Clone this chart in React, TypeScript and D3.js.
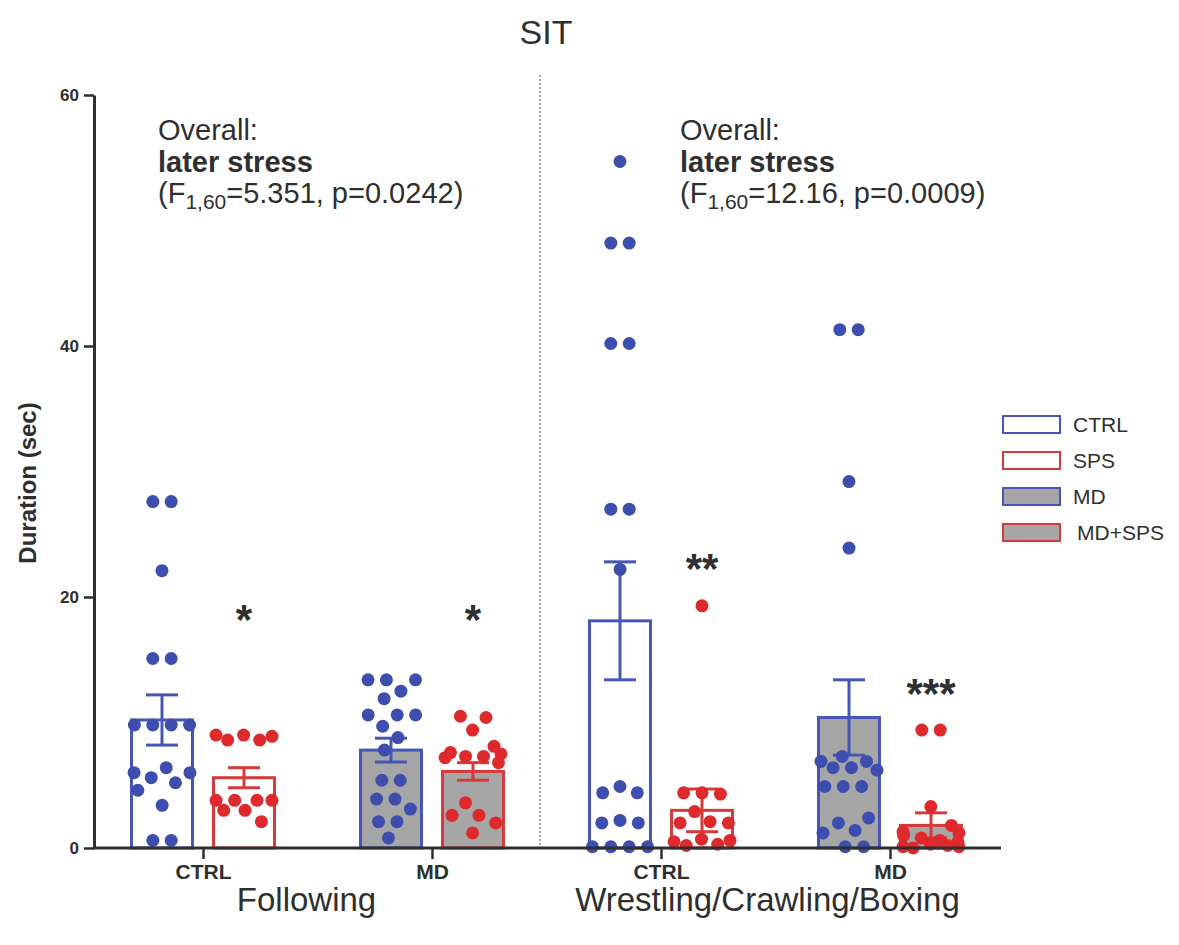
import { useEffect, useRef } from 'react';
import * as d3 from 'd3';

const behaviours = ['Following', 'Wrestling/Crawling/Boxing'];
const rearing = ['CTRL', 'MD'];
const stress = ['CTRL', 'SPS'];
const legendLabels = ['CTRL', 'SPS', 'MD', 'MD+SPS'];
const yTicks = [0, 20, 40, 60];

// individual animals, one array per bar (sec)
const followCtrlCtrl = [27.6, 27.6, 22.1, 15.1, 15.1, 9.8, 9.8, 9.8, 9.8, 6.4, 6.0, 6.0, 5.6, 5.2, 4.6, 3.4, 0.6, 0.6];
const followCtrlSps = [9.0, 8.6, 8.6, 8.9, 9.0, 3.8, 3.8, 3.8, 3.8, 3.0, 3.0, 2.1];
const followMdCtrl = [13.4, 13.4, 13.4, 12.5, 11.9, 10.6, 10.6, 10.6, 9.7, 8.8, 7.8, 5.4, 5.4, 3.9, 3.9, 3.1, 2.1, 2.1, 0.8];
const followMdSps = [10.5, 10.4, 9.4, 8.1, 7.6, 7.3, 7.3, 7.5, 7.2, 6.8, 3.6, 2.6, 2.6, 2.0, 1.2];
const wrestCtrlCtrl = [54.7, 48.2, 48.2, 40.2, 40.2, 27.0, 27.0, 22.2, 4.9, 4.4, 4.4, 2.2, 2.0, 2.0, 0.1, 0.1, 0.1, 0.1];
const wrestCtrlSps = [19.3, 4.4, 4.4, 4.3, 2.9, 2.1, 2.0, 2.0, 0.7, 0.6, 0.5, 0.3, 0.2];
const wrestMdCtrl = [41.3, 41.3, 29.2, 23.9, 7.3, 6.9, 6.9, 6.4, 6.4, 6.2, 4.9, 4.9, 4.9, 2.4, 2.0, 1.4, 1.2, 0.1, 0.1];
const wrestMdSps = [9.4, 9.4, 3.3, 1.8, 1.3, 1.2, 1.0, 0.8, 0.6, 0.5, 0.3, 0.2, 0.1, 0.1, 0.0];

// mean / SEM, order: CTRL-CTRL, CTRL-SPS, MD-CTRL, MD-SPS
const followMeans = [10.2, 5.6, 7.8, 6.1];
const followSem = [2.0, 0.8, 0.95, 0.7];
const wrestMeans = [18.1, 3.0, 10.4, 1.8];
const wrestSem = [4.7, 1.7, 3.0, 1.0];

// significance vs. same-rearing CTRL, drawn above the SPS bar
const sigStars = ['*', '*', '**', '***'];
const sigLevels = [19, 19, 23, 13.1];

const fStats = ['5.351', '12.16'];
const pStats = ['0.0242', '0.0009'];

const BLUE = '#3d4eae';
const BLUE_LINE = '#4656b6';
const RED = '#de2a2c';
const RED_LINE = '#d63a3a';
const GRAY = '#a6a6a6';
const INK = '#2f2f2f';
const FONT = '"Liberation Sans", Arial, Helvetica, sans-serif';

const App = () => {
    const ref = useRef<SVGSVGElement>(null);

    useEffect(() => {
        if (!ref.current) return;
        const svg = d3.select(ref.current);
        svg.selectAll('*').remove();

        const y = d3.scaleLinear().domain([0, 60]).range([848, 95]);
        const cats = behaviours.flatMap(b => rearing.map(r => b + '|' + r));
        const x = d3.scalePoint().domain(cats).range([203, 890]);
        const inner = d3.scaleBand().domain(stress).range([-82, 82]).paddingInner(0.22).paddingOuter(0.11);
        const bw = inner.bandwidth();

        const raw = [followCtrlCtrl, followCtrlSps, followMdCtrl, followMdSps,
            wrestCtrlCtrl, wrestCtrlSps, wrestMdCtrl, wrestMdSps];
        const means = [...followMeans, ...wrestMeans];
        const sems = [...followSem, ...wrestSem];

        const bars = cats.flatMap((c, ci) => stress.map((s, si) => {
            const k = ci * 2 + si;
            const cx = (x(c) as number) + (inner(s) as number) + bw / 2;
            const md = c.endsWith('MD');
            return { c, s, k, cx, md, vals: raw[k], mean: means[k], sem: sems[k], color: si ? RED : BLUE, line: si ? RED_LINE : BLUE_LINE };
        }));

        // title
        svg.append('text').attr('x', 546).attr('y', 44).attr('text-anchor', 'middle')
            .attr('font-family', FONT).attr('font-size', 34).attr('fill', INK).text('SIT');

        // divider between behaviours
        svg.append('line').attr('x1', 540).attr('x2', 540).attr('y1', 75).attr('y2', 848)
            .attr('stroke', '#555').attr('stroke-width', 1).attr('stroke-dasharray', '2,2');

        // bars
        const g = svg.append('g');
        g.selectAll('rect.bar').data(bars).join('rect')
            .attr('class', 'bar')
            .attr('x', d => d.cx - bw / 2 + 1.5)
            .attr('width', bw - 3)
            .attr('y', d => y(d.mean))
            .attr('height', d => y(0) - y(d.mean))
            .attr('fill', d => d.md ? GRAY : 'white')
            .attr('stroke', d => d.line)
            .attr('stroke-width', 3);

        // error bars
        bars.forEach(d => {
            const eg = g.append('g').attr('stroke', d.line).attr('stroke-width', 3);
            eg.append('line').attr('x1', d.cx).attr('x2', d.cx).attr('y1', y(d.mean - d.sem)).attr('y2', y(d.mean + d.sem));
            [d.mean - d.sem, d.mean + d.sem].forEach(v => {
                eg.append('line').attr('x1', d.cx - 16).attr('x2', d.cx + 16).attr('y1', y(v)).attr('y2', y(v));
            });
        });

        // dots, spread like a swarm inside each bar
        bars.forEach(d => {
            const half = bw / 2 - 4;
            const nodes: any[] = d.vals.map((v, i) => ({ v, fy: y(v), y: y(v), x: d.cx + (i % 2 ? 1 : -1) * (i * 0.7 + 0.3) }));
            const sim = d3.forceSimulation(nodes)
                .force('x', d3.forceX(d.cx).strength(0.06))
                .force('c', d3.forceCollide(9.2).iterations(3))
                .stop();
            for (let t = 0; t < 300; t++) {
                sim.tick();
                nodes.forEach(n => { n.x = Math.max(d.cx - half, Math.min(d.cx + half, n.x)); });
            }
            g.append('g').selectAll('circle').data(nodes).join('circle')
                .attr('cx', n => n.x).attr('cy', n => y(n.v)).attr('r', 6.5).attr('fill', d.color);
        });

        // significance stars
        const spsBars = bars.filter(d => d.s === 'SPS');
        svg.append('g').selectAll('text').data(spsBars).join('text')
            .attr('x', d => d.cx).attr('y', (d, i) => y(sigLevels[i]) + 24)
            .attr('text-anchor', 'middle').attr('font-family', FONT).attr('font-weight', 'bold')
            .attr('font-size', 42).attr('fill', INK)
            .text((d, i) => sigStars[i]);

        // y axis
        const ya = svg.append('g').attr('transform', 'translate(94,0)')
            .call(d3.axisLeft(y).tickValues(yTicks).tickSize(10).tickSizeOuter(0).tickPadding(5));
        ya.select('.domain').attr('stroke', INK).attr('stroke-width', 3);
        ya.selectAll('.tick line').attr('stroke', INK).attr('stroke-width', 2.5);
        ya.selectAll('.tick text').attr('font-family', FONT).attr('font-weight', 'bold')
            .attr('font-size', 17).attr('fill', INK);

        // x axis
        svg.append('line').attr('x1', 93).attr('x2', 1001).attr('y1', 848).attr('y2', 848)
            .attr('stroke', INK).attr('stroke-width', 3);
        const xa = svg.append('g').attr('transform', 'translate(0,848)')
            .call(d3.axisBottom(x).tickSize(11).tickPadding(5).tickFormat(c => (c as string).split('|')[1]));
        xa.select('.domain').remove();
        xa.selectAll('.tick line').attr('stroke', INK).attr('stroke-width', 2.5);
        xa.selectAll('.tick text').attr('font-family', FONT).attr('font-weight', 'bold')
            .attr('font-size', 21).attr('fill', INK);

        // behaviour labels
        svg.append('g').selectAll('text').data(behaviours).join('text')
            .attr('x', b => ((x(b + '|CTRL') as number) + (x(b + '|MD') as number)) / 2 - (b === 'Following' ? 11 : 8))
            .attr('y', 911).attr('text-anchor', 'middle')
            .attr('font-family', FONT).attr('font-size', 33).attr('fill', INK)
            .text(b => b);

        // y label
        svg.append('text').attr('transform', 'translate(36,483) rotate(-90)')
            .attr('text-anchor', 'middle').attr('font-family', FONT).attr('font-weight', 'bold')
            .attr('font-size', 24).attr('fill', INK).text('Duration (sec)');

        // overall stats
        [158, 680].forEach((tx, i) => {
            const t = svg.append('g').attr('font-family', FONT).attr('font-size', 29).attr('fill', INK);
            t.append('text').attr('x', tx).attr('y', 140).text('Overall:');
            t.append('text').attr('x', tx).attr('y', 172).attr('font-weight', 'bold').text('later stress');
            const l3 = t.append('text').attr('x', tx).attr('y', 203);
            l3.append('tspan').text('(F');
            l3.append('tspan').attr('font-size', 21).attr('dy', 6).text('1,60');
            l3.append('tspan').attr('dy', -6).text(`=${fStats[i]}, p=${pStats[i]})`);
        });

        // legend
        const lg = svg.append('g').attr('transform', 'translate(1003,416)');
        const legendStyle = [
            { fill: 'white', stroke: BLUE_LINE },
            { fill: 'white', stroke: RED_LINE },
            { fill: GRAY, stroke: BLUE_LINE },
            { fill: GRAY, stroke: RED_LINE },
        ];
        legendLabels.forEach((lab, i) => {
            lg.append('rect').attr('x', 0).attr('y', i * 36).attr('width', 57).attr('height', 17)
                .attr('fill', legendStyle[i].fill).attr('stroke', legendStyle[i].stroke).attr('stroke-width', 2);
            lg.append('text').attr('x', i === 3 ? 74 : 70).attr('y', i * 36 + 16)
                .attr('font-family', FONT).attr('font-size', 21).attr('fill', INK).text(lab);
        });
    }, []);

    return (
        <svg ref={ref} width={1179} height={945}
            style={{ position: 'absolute', left: 0, top: 0, background: 'white' }} />
    );
};

export default App;
